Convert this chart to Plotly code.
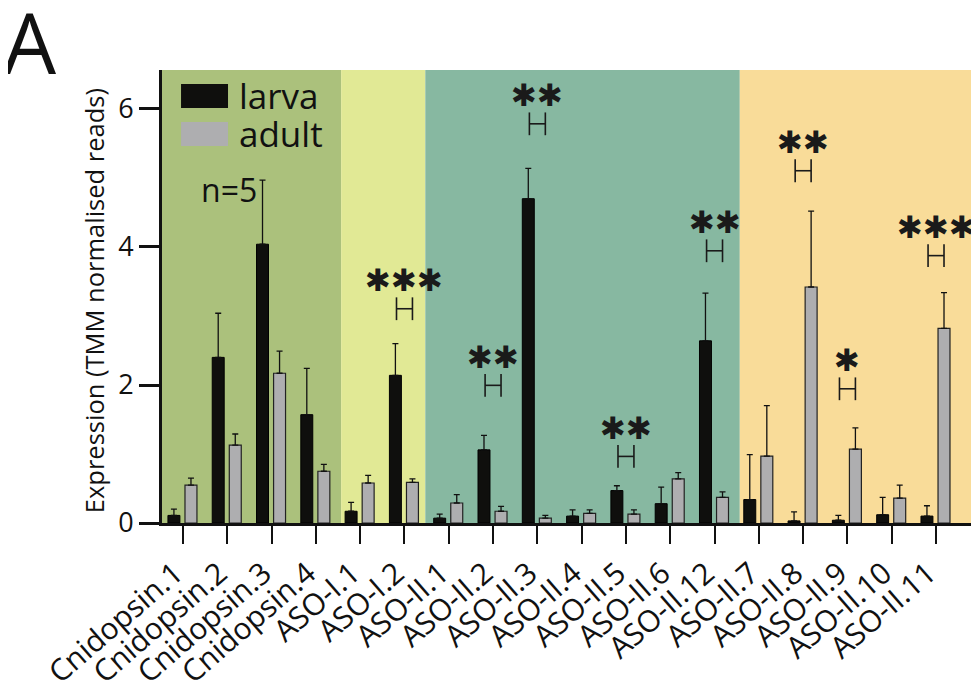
import plotly.graph_objects as go

genes = ["Cnidopsin.1", "Cnidopsin.2", "Cnidopsin.3", "Cnidopsin.4", "ASO-I.1", "ASO-I.2",
         "ASO-II.1", "ASO-II.2", "ASO-II.3", "ASO-II.4", "ASO-II.5", "ASO-II.6", "ASO-II.12",
         "ASO-II.7", "ASO-II.8", "ASO-II.9", "ASO-II.10", "ASO-II.11"]
larva = [0.11, 2.40, 4.04, 1.57, 0.17, 2.14, 0.07, 1.06, 4.70, 0.10, 0.47, 0.28, 2.64,
         0.34, 0.03, 0.04, 0.12, 0.10]
larva_top = [0.20, 3.04, 4.97, 2.24, 0.30, 2.60, 0.13, 1.27, 5.14, 0.19, 0.54, 0.52, 3.33,
             0.99, 0.16, 0.11, 0.37, 0.25]
adult = [0.55, 1.13, 2.17, 0.75, 0.58, 0.59, 0.29, 0.17, 0.07, 0.14, 0.13, 0.64, 0.37,
         0.97, 3.42, 1.07, 0.36, 2.82]
adult_top = [0.65, 1.29, 2.49, 0.85, 0.69, 0.64, 0.41, 0.24, 0.11, 0.19, 0.19, 0.73, 0.45,
             1.70, 4.52, 1.38, 0.55, 3.34]

# background bands (category index boundaries) and colours
band_edges = [-0.474, 3.57, 5.47, 12.57, 17.97]
band_colors = ["#abc17c", "#e1e995", "#87b8a1", "#f9dc99"]

# significance
sig_genes = ["ASO-I.2", "ASO-II.2", "ASO-II.3", "ASO-II.5", "ASO-II.12", "ASO-II.8", "ASO-II.9", "ASO-II.11"]
sig_stars = [3, 2, 2, 2, 2, 2, 1, 3]
sig_base = [2.94, 1.83, 5.62, 0.80, 3.78, 4.94, 1.78, 3.71]

FONT = "Open Sans"
BLACK = "#0f0f0d"
GRAY = "#aeaeb0"

fig = go.Figure()
fig.add_trace(go.Bar(
    x=genes, y=larva, name="larva", width=0.27, offset=-0.34,
    marker=dict(color=BLACK, line=dict(color="#000000", width=1)),
    error_y=dict(type="data", symmetric=False,
                 array=[t - v for t, v in zip(larva_top, larva)],
                 arrayminus=[0] * len(larva), color="#111111", thickness=1.3, width=3),
    showlegend=False))
fig.add_trace(go.Bar(
    x=genes, y=adult, name="adult", width=0.27, offset=0.045,
    marker=dict(color=GRAY, line=dict(color="#222222", width=1.2)),
    error_y=dict(type="data", symmetric=False,
                 array=[t - v for t, v in zip(adult_top, adult)],
                 arrayminus=[0] * len(adult), color="#111111", thickness=1.3, width=3),
    showlegend=False))

shapes = []
for i, c in enumerate(band_colors):
    shapes.append(dict(type="rect", xref="x", yref="paper", x0=band_edges[i], x1=band_edges[i + 1],
                       y0=0, y1=1, fillcolor=c, line=dict(width=0), layer="below"))

annotations = []
BH = 0.33
for g, n, b in zip(sig_genes, sig_stars, sig_base):
    gi = genes.index(g)
    for xx in (gi - 0.18, gi + 0.18):
        shapes.append(dict(type="line", xref="x", yref="y", x0=xx, x1=xx, y0=b, y1=b + BH,
                           line=dict(color="#1a1a1a", width=1.6)))
    shapes.append(dict(type="line", xref="x", yref="y", x0=gi - 0.18, x1=gi + 0.18,
                       y0=b + BH / 2, y1=b + BH / 2, line=dict(color="#1a1a1a", width=1.6)))
    annotations.append(dict(x=gi, y=b + BH + 0.25, xref="x", yref="y", text="✱" * n,
                            showarrow=False, font=dict(family="DejaVu Sans", size=31, color="#1a1a1a"),
                            xanchor="center", yanchor="middle"))

# legend (manual)
shapes.append(dict(type="rect", xref="paper", yref="paper", x0=0.0233, x1=0.0808, y0=0.916, y1=0.969,
                   fillcolor=BLACK, line=dict(width=0)))
shapes.append(dict(type="rect", xref="paper", yref="paper", x0=0.0233, x1=0.0808, y0=0.832, y1=0.885,
                   fillcolor=GRAY, line=dict(width=0)))
annotations.append(dict(x=0.092, y=0.943, xref="paper", yref="paper", text="larva", showarrow=False,
                        xanchor="left", yanchor="middle", font=dict(family=FONT, size=35, color="#111")))
annotations.append(dict(x=0.092, y=0.859, xref="paper", yref="paper", text="adult", showarrow=False,
                        xanchor="left", yanchor="middle", font=dict(family=FONT, size=35, color="#111")))
annotations.append(dict(x=1.04, y=4.83, xref="x", yref="y", text="n=5", showarrow=False,
                        xanchor="center", yanchor="middle", font=dict(family=FONT, size=32, color="#111")))
annotations.append(dict(x=-0.1616, y=1.062, xref="paper", yref="paper", text="A", showarrow=False,
                        xanchor="center", yanchor="middle", font=dict(family=FONT, size=84, color="#111")))
annotations.append(dict(x=-0.083, y=0.49, xref="paper", yref="paper", text="Expression (TMM normalised reads)",
                        showarrow=False, textangle=-90, xanchor="center", yanchor="middle",
                        font=dict(family=FONT, size=25.5, color="#111")))

# page body has an 8px margin: compensate so the plot lands where the reference has it
fig.update_layout(
    width=971, height=685,
    margin=dict(l=154, r=0, t=62, b=170, autoexpand=False),
    paper_bgcolor="white", plot_bgcolor="white",
    barmode="overlay",
    shapes=shapes, annotations=annotations,
    font=dict(family=FONT, color="#111"),
)
fig.update_xaxes(type="category", categoryorder="array", categoryarray=genes,
                 range=[-0.474, 17.97], showline=True, linewidth=3, linecolor="#111",
                 ticks="outside", ticklen=18, tickwidth=2, tickcolor="#111",
                 tickangle=-41, ticklabelshift=-8,
                 tickfont=dict(family=FONT, size=30, color="#111"),
                 automargin=False, showgrid=False, zeroline=False)
fig.update_yaxes(range=[0, 6.565], showline=True, linewidth=3, linecolor="#111",
                 ticks="outside", ticklen=20, tickwidth=2.5, tickcolor="#111",
                 tickvals=[0, 2, 4, 6], tickfont=dict(family=FONT, size=27, color="#111"),
                 automargin=False, showgrid=False, zeroline=False)

fig.write_html("out.html")
